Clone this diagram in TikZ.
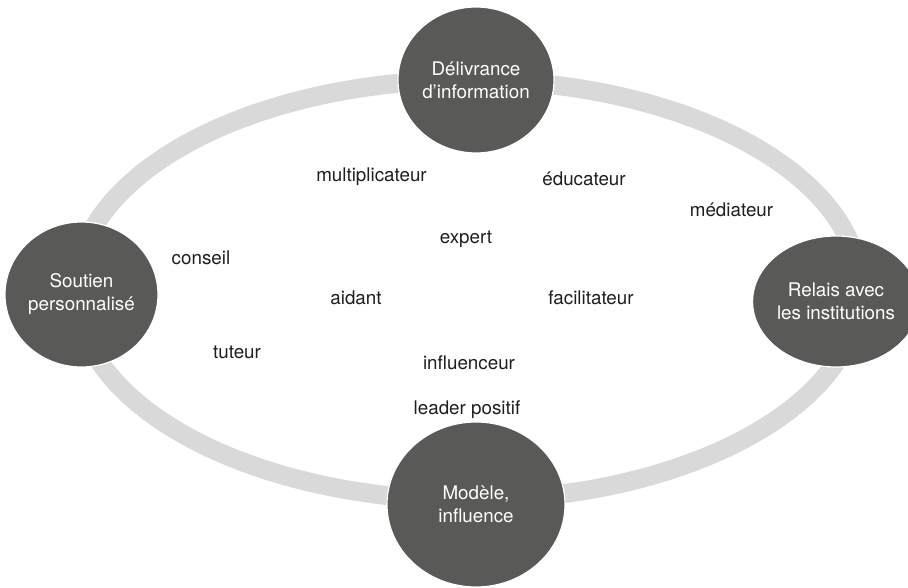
\documentclass[tikz,border=0pt]{standalone}
\usepackage{fontspec}
\setmainfont{TeX Gyre Heros}
\usetikzlibrary{shapes.geometric}
\definecolor{ringgray}{HTML}{D9D9D9}
\definecolor{hubgray}{HTML}{595958}
\definecolor{txtdark}{HTML}{1E1E1E}
\tikzset{
  hub/.style={ellipse, fill=hubgray, draw=white, line width=1.2pt, inner sep=0pt,
    text=white, align=center, font=\fontsize{18.8}{23}\selectfont},
  role/.style={text=txtdark, inner sep=0pt, font=\fontsize{18.8}{23}\selectfont},
  ring/.style={draw=ringgray, line width=19pt}
}
\begin{document}
\begin{tikzpicture}[x=1pt,y=-1pt]
\useasboundingbox (0,0) rectangle (908,588);
\draw[ring] (468,290) ellipse [x radius=392pt, y radius=210pt];
\node[hub, minimum width=156pt, minimum height=146pt] (top) at (476,80) {Délivrance\\d’information};
\node[hub, minimum width=153pt, minimum height=145pt] (left) at (81.5,294.5) {Soutien\\personnalisé};
\node[hub, minimum width=139pt, minimum height=131pt] (right) at (836,301.5) {Relais avec\\les institutions};
\node[hub, minimum width=178pt, minimum height=165pt] (bottom) at (476,504.5) {Modèle,\\influence};
\node[role] (multi) at (371.5,177) {multiplicateur};
\node[role] (educ) at (584,179) {éducateur};
\node[role] (med) at (731.5,210) {médiateur};
\node[role] (expert) at (466,239) {expert};
\node[role] (conseil) at (201,258) {conseil};
\node[role] (aidant) at (356,298) {aidant};
\node[role] (facil) at (591,298) {facilitateur};
\node[role] (tuteur) at (237,352) {tuteur};
\node[role] (influ) at (469,362.5) {influenceur};
\node[role] (leader) at (467,410) {leader positif};
\end{tikzpicture}
\end{document}
